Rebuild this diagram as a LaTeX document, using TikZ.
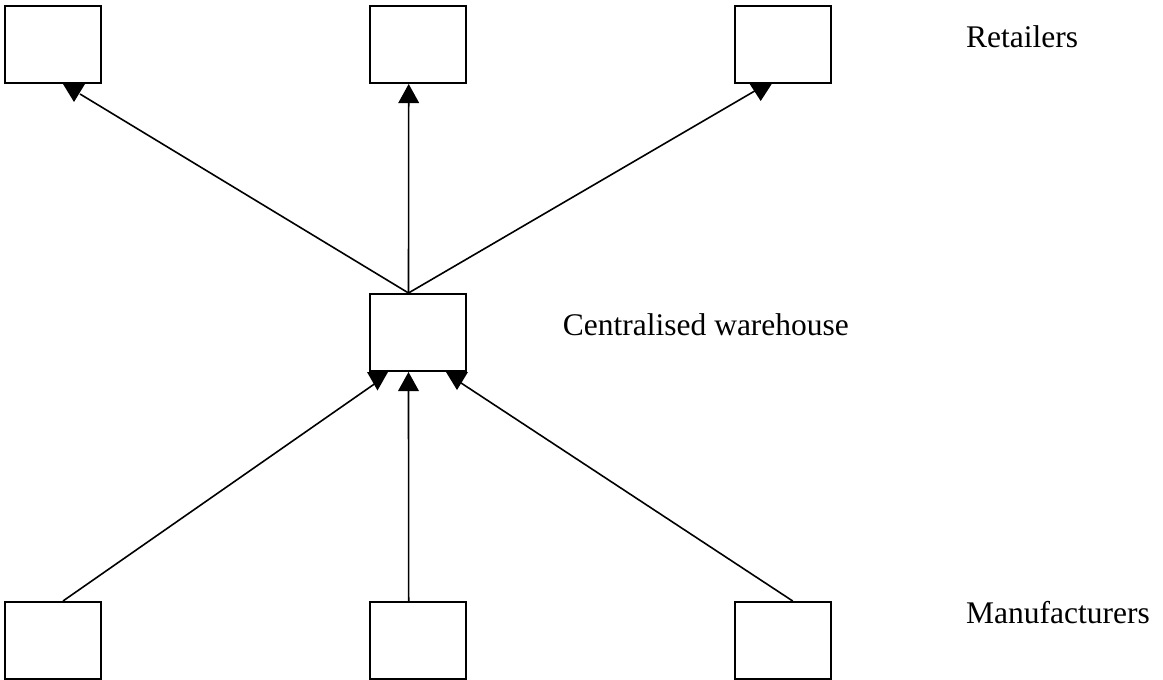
\documentclass[tikz,border=0pt]{standalone}
\usepackage{fontspec}
\setmainfont{Liberation Serif}
\usetikzlibrary{calc}
\begin{document}
\begin{tikzpicture}[x=1pt,y=-1pt,
  unit/.style={draw, line width=2pt, minimum width=96pt, minimum height=77pt, inner sep=0pt, fill=white},
  link/.style={line width=1.6pt},
  label/.style={anchor=base west, inner sep=0pt, font=\fontsize{31.5}{38}\selectfont}]
\useasboundingbox (0,0) rectangle (1163,680);

% retailers
\node[unit] (r1) at (53,44.5) {};
\node[unit] (r2) at (417.7,44.5) {};
\node[unit] (r3) at (782.7,44.5) {};
% warehouse
\node[unit] (w) at (418,332.5) {};
% manufacturers
\node[unit] (m1) at (53,640.5) {};
\node[unit] (m2) at (417.7,640.5) {};
\node[unit] (m3) at (782.7,640.5) {};

% junction points
\coordinate (hub) at ($(w.north)+(-9.5,0)$);
\coordinate (r1in) at ($(r1.south)+(27,10)$);
\coordinate (r2in) at ($(r2.south)+(-9,19)$);
\coordinate (r3in) at ($(r3.south)+(-28,7)$);
\coordinate (m1out) at ($(m1.north)+(10,0)$);
\coordinate (m2out) at ($(m2.north)+(-9,0)$);
\coordinate (m3out) at ($(m3.north)+(10,0)$);
\coordinate (w1in) at ($(w.south)+(-35,6)$);
\coordinate (w2in) at ($(w.south)+(-9.5,18)$);
\coordinate (w3in) at ($(w.south)+(37,7)$);

% connectors
\draw[link] (hub) -- (r1in);
\draw[link] (hub) -- (r2in);
\draw[link] (hub) -- (r3in);
\draw[link] (m1out) -- (w1in);
\draw[link] (m2out) -- (w2in);
\draw[link] (m3out) -- (w3in);

% arrowheads
\fill (r1.south) ++(10,0) -- ++(22,0) -- ++(-11,18) -- cycle;
\fill (r2.south) ++(-9,0) -- ++(-10.5,19) -- ++(21,0) -- cycle;
\fill (r3.south) ++(-33,0) -- ++(22,0) -- ++(-11,17) -- cycle;
\fill (w.south) ++(-51,0) -- ++(21,0) -- ++(-10.5,18.5) -- cycle;
\fill (w.south) ++(-9.5,0) -- ++(-10.5,19) -- ++(21,0) -- cycle;
\fill (w.south) ++(28,0) -- ++(22,0) -- ++(-11,18) -- cycle;

% tier labels
\node[label] (tr) at (966,47) {Retailers};
\node[label] (tw) at (562.7,335.5) {Centralised warehouse};
\node[label] (tm) at (966,623.5) {Manufacturers};
\end{tikzpicture}
\end{document}
